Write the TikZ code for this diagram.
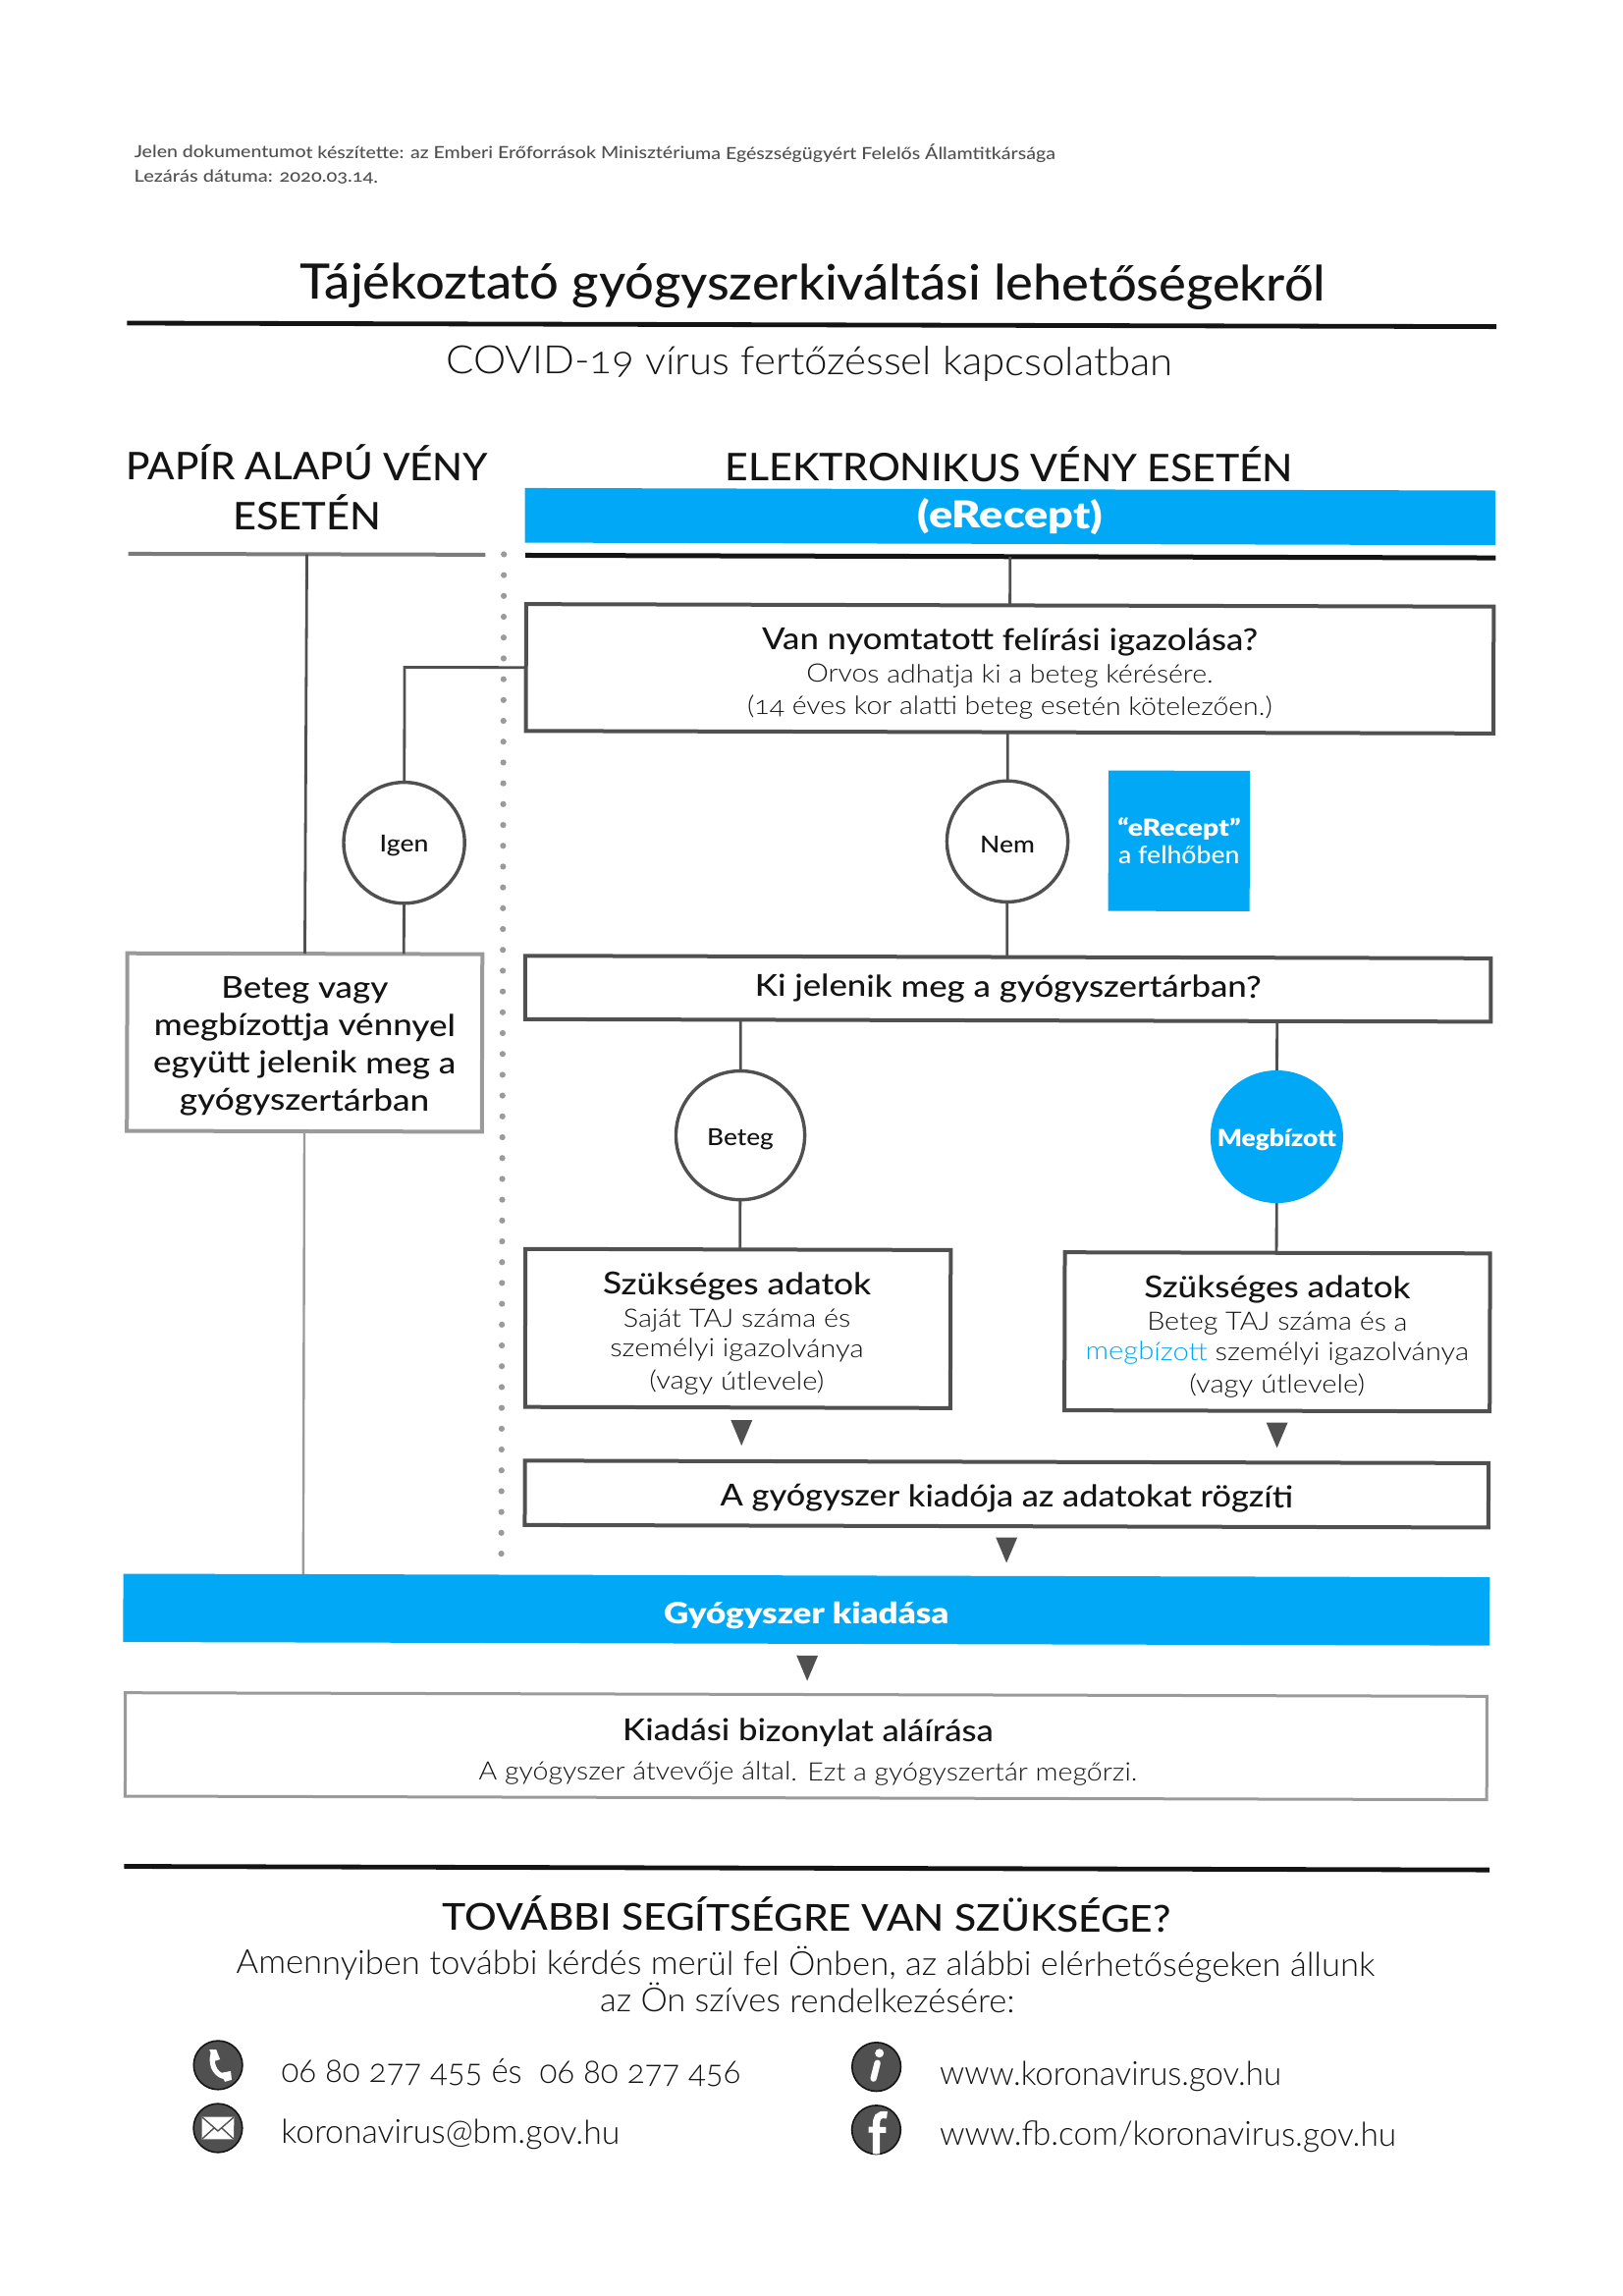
\documentclass[tikz,border=0pt]{standalone}
\usepackage{fontspec}
\usepackage{graphicx}
\setmainfont{Lato}[UprightFont=* Light,BoldFont=* Black,Numbers=OldStyle]
\newfontfamily\med{Lato}[UprightFont=* Medium,Numbers=OldStyle]
\definecolor{brand}{HTML}{00A8F5}
\definecolor{ink}{HTML}{141414}
\definecolor{edge}{HTML}{505050}
\definecolor{pale}{HTML}{9A9A9A}
\newcommand{\fw}[2]{\resizebox{\fpeval{#1/2}pt}{\height}{#2}}
\newcommand{\drop}[2]{\raisebox{-#1}[\height][\depth]{#2}}
\newcommand{\dtri}[2]{\fill[edge,shift={(#1,#2)}] (-11,-13) -- (11,-13) -- (0,13) -- cycle;}
\tikzset{
  panel/.style={draw=edge,line width=2pt,fill=white,inner sep=0pt,outer sep=0pt,align=center,text=ink},
  palepanel/.style={panel,draw=pale},
  txt/.style={inner sep=0pt,outer sep=0pt,align=center,text=ink},
  lnk/.style={draw=edge,line width=1.4pt},
  palelnk/.style={draw=pale,line width=1.2pt},
  disc/.style={circle,draw=edge,line width=1.7pt,fill=white,inner sep=0pt,outer sep=0pt,text=ink},
  bluebar/.style={fill=brand,inner sep=0pt,outer sep=0pt,align=center,text=white},
  icon/.style={fill=edge,draw=ink,line width=.8pt}
}
\begin{document}
\begin{tikzpicture}[x=.5pt,y=-.5pt]
\useasboundingbox (0,0) rectangle (1653,2338);
\fill[white] (0,0) rectangle (1653,2338);
\begin{scope}[rotate around={-0.15:(826,1169)},scale=0.9934,transform shape]
% header
\node[txt,anchor=west,text=edge,font=\med\fontsize{8.6}{11}\selectfont] (n1) at (135,157) {\fw{944}{Jelen dokumentumot készítette: az Emberi Erőforrások Minisztériuma Egészségügyért Felelős Államtitkársága}};
\node[txt,anchor=west,text=edge,font=\med\fontsize{8.6}{11}\selectfont] (n2) at (135,183) {\fw{250}{Lezárás dátuma: 2020.03.14.}};
\node[txt,font=\med\fontsize{25}{28}\selectfont] (title) at (831,293.5) {\fw{1051}{Tájékoztató gyógyszerkiváltási lehetőségekről}};
\draw[draw=ink,line width=2.4pt] (128,333) -- (1532,333);
\node[txt,font=\fontsize{20}{24}\selectfont] (sub) at (828,373) {\fw{745}{COVID-19 vírus fertőzéssel kapcsolatban}};
% columns
\node[txt,font=\med\fontsize{19.5}{24.5}\selectfont] (hl) at (313,501) {\fw{371}{PAPÍR ALAPÚ VÉNY}\\[1pt]\fw{152}{ESETÉN}};
\node[txt,font=\med\fontsize{19.5}{24}\selectfont] (hr) at (1033,475) {\fw{582}{ELEKTRONIKUS VÉNY ESETÉN}};
\node[bluebar,minimum width=497.5pt,minimum height=28pt,font=\bfseries\fontsize{19}{22}\selectfont] (er) at (1034,529) {\fw{189}{(eRecept)}};
\draw[draw=pale!80!black,line width=2pt] (130,569.5) -- (496,569.5);
\coordinate (rl) at (313,569.5);
\draw[draw=ink,line width=2.5pt] (537,570) -- (1532,570);
\coordinate (rr) at (1034,570);
% dotted divider
\draw[pale,line width=3.1pt,line cap=round,dash pattern=on 0pt off 10.6pt] (515,569) -- (515,1612);
% question box
\node[panel,minimum width=496pt,minimum height=65pt] (q1) at (1034,685) {};
\node[txt] (q1t) at (1034,690) {%
  {\med\fontsize{15.5}{20}\selectfont\fw{508}{Van nyomtatott felírási igazolása?}}\\[3.5pt]
  {\fontsize{13}{16}\selectfont\fw{417}{Orvos adhatja ki a beteg kérésére.}}\\[3pt]
  {\fontsize{13}{16}\selectfont\fw{538}{(14 éves kor alatti beteg esetén kötelezően.)}}};
\node[panel,minimum width=495pt,minimum height=32.5pt,font=\med\fontsize{15.5}{20}\selectfont] (q2) at (1033,1013) {\fw{519}{Ki jelenik meg a gyógyszertárban?}};
\node[palepanel,minimum width=182pt,minimum height=91pt] (lb) at (312,1070) {};
\node[txt,font=\med\fontsize{15.5}{18.7}\selectfont] (lbt) at (312,1074) {\fw{171}{Beteg vagy}\\[.5pt]\fw{309}{megbízottja vénnyel}\\[.5pt]\fw{310}{együtt jelenik meg a}\\[.5pt]\fw{256}{gyógyszertárban}};
\node[disc,minimum size=62pt] (igen) at (413.5,865) {\fontsize{12}{14}\selectfont\med\drop{1.5pt}{\fw{50}{Igen}}};
\node[disc,minimum size=62pt] (nem) at (1032,862) {\fontsize{12}{14}\selectfont\med\drop{1.5pt}{\fw{56}{Nem}}};
\node[bluebar,minimum width=72.5pt,minimum height=72pt] (cloud) at (1208,861) {{\fontsize{12}{14.5}\selectfont\bfseries\fw{126}{“eRecept”}}\\[2pt]{\med\fontsize{12.5}{14.5}\selectfont\fw{124}{a felhőben}}};
\node[disc,minimum size=66pt] (bet) at (759,1164) {\fontsize{12}{14}\selectfont\med\drop{2pt}{\fw{68}{Beteg}}};
\node[disc,draw=none,fill=brand,text=white,minimum size=68pt] (meg) at (1309,1164) {\fontsize{12}{14}\selectfont\bfseries\drop{1.5pt}{\fw{122}{Megbízott}}};
\node[panel,minimum width=218pt,minimum height=81pt] (a) at (757,1362) {};
\node[txt] (at) at (756,1367) {%
  {\med\fontsize{15.5}{19}\selectfont\fw{275}{Szükséges adatok}}\\[3.5pt]
  {\fontsize{13}{15.5}\selectfont\fw{233}{Saját TAJ száma és}}\\[3.4pt]
  {\fontsize{13}{15.5}\selectfont\fw{260}{személyi igazolványa}}\\[3.4pt]
  {\fontsize{13}{15.5}\selectfont\fw{179}{(vagy útlevele)}}};
\node[panel,minimum width=218pt,minimum height=81pt] (b) at (1310,1364) {};
\node[txt] (bt) at (1310,1369) {%
  {\med\fontsize{15.5}{19}\selectfont\fw{273}{Szükséges adatok}}\\[3.5pt]
  {\fontsize{13}{15.5}\selectfont\fw{267}{Beteg TAJ száma és a}}\\[3.4pt]
  {\fontsize{13}{15.5}\selectfont\fw{393}{\textcolor{brand}{megbízott} személyi igazolványa}}\\[3.4pt]
  {\fontsize{13}{15.5}\selectfont\fw{180}{(vagy útlevele)}}};
\dtri{761}{1469}
\dtri{1310}{1470}
\node[panel,minimum width=494pt,minimum height=33pt,font=\med\fontsize{15.5}{20}\selectfont] (c) at (1033,1531) {\drop{2.2pt}{\fw{587}{A gyógyszer kiadója az adatokat rögzíti}}};
\dtri{1033}{1588.5}
\node[bluebar,minimum width=700.5pt,minimum height=35pt,font=\bfseries\fontsize{15}{18}\selectfont] (kb) at (828,1650) {\drop{3pt}{\fw{292}{Gyógyszer kiadása}}};
\dtri{829}{1710}
\node[palepanel,line width=1.5pt,minimum width=698pt,minimum height=53pt] (d) at (828,1790) {};
\node[txt] (dt) at (830,1796) {%
  {\med\fontsize{15.5}{20}\selectfont\fw{380}{Kiadási bizonylat aláírása}}\\[7pt]
  {\fontsize{13}{16}\selectfont\fw{675}{A gyógyszer átvevője által. Ezt a gyógyszertár megőrzi.}}};
% connectors
\draw[lnk] (rl) -- (lb.north);
\draw[palelnk] (lb.south) -- (lb.south |- kb.north);
\draw[lnk] (rr) -- (q1.north);
\draw[lnk] (q1.west) -| (igen.north);
\draw[lnk] (igen.south) -- (igen.south |- lb.north);
\draw[lnk] (q1.south -| nem.north) -- (nem.north);
\draw[lnk] (nem.south) -- (nem.south |- q2.north);
\draw[lnk] (q2.south -| bet.north) -- (bet.north);
\draw[lnk] (bet.south) -- (bet.south |- a.north);
\draw[lnk] (q2.south -| meg.north) -- (meg.north);
\draw[lnk] (meg.south) -- (meg.south |- b.north);
% footer
\draw[draw=ink,line width=2.4pt] (129,1915) -- (1529,1915);
\node[txt,font=\med\fontsize{19}{23}\selectfont] (t) at (829,1962) {\fw{747}{TOVÁBBI SEGÍTSÉGRE VAN SZÜKSÉGE?}};
\node[txt,font=\fontsize{17}{19}\selectfont] (am) at (828,2013) {\fw{1167}{Amennyiben további kérdés merül fel Önben, az alábbi elérhetőségeken állunk}};
\node[txt,font=\fontsize{17}{19}\selectfont] (az) at (830,2048) {\fw{425}{az Ön szíves rendelkezésére:}};
\node[txt,anchor=west,font=\fontsize{17}{19}\selectfont] (ph) at (291,2125.5) {\fw{471}{06 80 277 455 és\ \ 06 80 277 456}};
\node[txt,anchor=west,font=\fontsize{17}{19}\selectfont] (em) at (291,2189) {\fw{347}{koronavirus@bm.gov.hu}};
\node[txt,anchor=west,font=\fontsize{17}{19}\selectfont] (ww) at (966,2127.5) {\fw{350}{www.koronavirus.gov.hu}};
\node[txt,anchor=west,font=\fontsize{17}{19}\selectfont] (fb) at (966,2189) {\fw{468}{www.fb.com/koronavirus.gov.hu}};
% icons
\begin{scope}[shift={(226,2118.5)}]
  \filldraw[icon] (0,0) circle (25);
  \draw[white,line width=2.6pt,line cap=round] (-5,-12) .. controls (-9,2) and (0,12) .. (9,12);
  \fill[white] (-9,-16) -- (-2,-16) -- (2,-6) -- (-4,-4) -- cycle;
  \fill[white] (3,8) -- (13,6) -- (14,15) -- (7,17) -- cycle;
\end{scope}
\begin{scope}[shift={(226,2183)}]
  \filldraw[icon] (0,0) circle (25);
  \filldraw[fill=white,draw=white] (-16,-11) rectangle (16,11);
  \draw[edge,line width=.7pt] (-16,-11) -- (0,3) -- (16,-11) (-16,11) -- (-4,0) (16,11) -- (4,0);
\end{scope}
\begin{scope}[shift={(901,2118.5)}]
  \filldraw[icon] (0,0) circle (25);
  \fill[white] (3,-14) circle (4.5);
  \draw[white,line width=3.2pt,line cap=round] (1,-4) -- (-3,12);
\end{scope}
\begin{scope}[shift={(901,2183)}]
  \filldraw[icon] (0,0) circle (25);
  \clip (0,0) circle (25);
  \draw[white,line width=3.6pt] (11,-15) .. controls (1,-17) and (0,-11) .. (0,-5) -- (0,26);
  \draw[white,line width=3pt] (-8,0) -- (10,0);
\end{scope}
\end{scope}
\end{tikzpicture}
\end{document}
